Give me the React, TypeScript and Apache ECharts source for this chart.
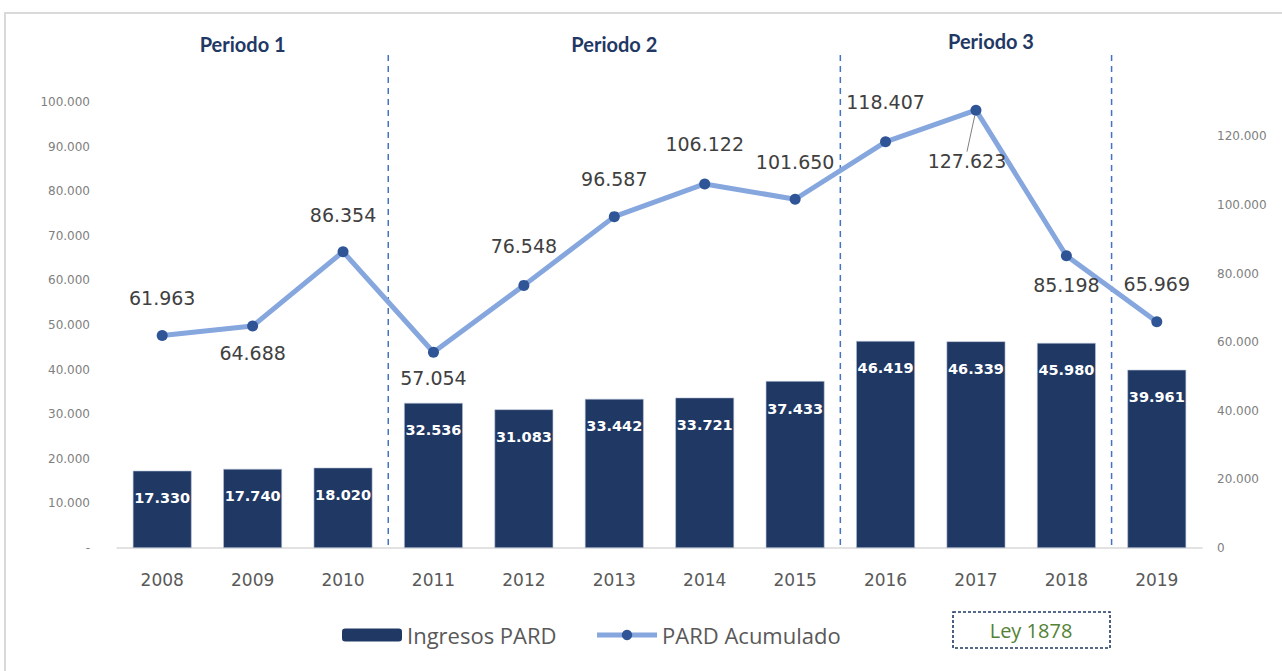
import React, { useEffect, useRef } from "react";
import * as echarts from "echarts";

const years = ["2008", "2009", "2010", "2011", "2012", "2013", "2014", "2015", "2016", "2017", "2018", "2019"];
const ingresos = [17330, 17740, 18020, 32536, 31083, 33442, 33721, 37433, 46419, 46339, 45980, 39961];
const acumulado = [61963, 64688, 86354, 57054, 76548, 96587, 106122, 101650, 118407, 127623, 85198, 65969];
const periodTitles = ["Periodo 1", "Periodo 2", "Periodo 3"];
// label placement for each accumulated point: [position, distance, dx]
const lineLabelPlacement: [string, number, number][] = [
  ["top", 22, 0],
  ["bottom", 12, 0],
  ["top", 22, 0],
  ["bottom", 11, 0],
  ["top", 24, 0],
  ["top", 23, 0],
  ["top", 25, 0],
  ["top", 22, 0],
  ["top", 25, -11],
  ["bottom", 12, 0],
  ["bottom", 14, 2],
  ["top", 23, 26],
];

const fmt = (v: number) => {
  if (v === 0) return "-";
  return Math.round(v).toString().replace(/\B(?=(\d{3})+(?!\d))/g, ".");
};
const fmtR = (v: number) => (v === 0 ? "0" : fmt(v));

export default function App() {
  const ref = useRef<HTMLDivElement>(null);
  useEffect(() => {
    if (!ref.current) return;
    const chart = echarts.init(ref.current, null, { renderer: "svg" });
    const lineData = acumulado.map((v, i) => {
      const [pos, dist, dx] = lineLabelPlacement[i];
      return {
        value: v,
        label: { position: pos as any, distance: dist, offset: [dx, 0] },
        labelLine: i === 9 ? { show: true } : undefined,
      };
    });
    const option: any = {
      animation: false,
      backgroundColor: "#ffffff",
      grid: { left: 117, right: 80, top: 102, bottom: 123 },
      legend: {
        left: 337,
        top: 619,
        itemWidth: 60,
        itemHeight: 13,
        itemGap: 38,
        textStyle: { fontFamily: "Open Sans", fontSize: 22, color: "#595959" },
        data: [
          { name: "Ingresos PARD", itemStyle: { borderWidth: 0, color: "#1F3864" } },
          { name: "PARD Acumulado", lineStyle: { width: 5, color: "#86A6DE" }, itemStyle: { color: "#2F5597" } },
        ],
      },
      xAxis: {
        type: "category",
        data: years,
        axisLine: { lineStyle: { color: "#d9d9d9", width: 1.5 } },
        axisTick: { show: false },
        axisLabel: { fontFamily: "DejaVu Sans", fontSize: 17, color: "#595959", margin: 23 },
      },
      yAxis: [
        {
          type: "value",
          min: 0,
          max: 100000,
          interval: 10000,
          splitLine: { show: false },
          axisLine: { show: false },
          axisTick: { show: false },
          axisLabel: {
            fontFamily: "DejaVu Sans",
            fontSize: 12,
            color: "#808080",
            margin: 27,
            formatter: fmt,
          },
        },
        {
          type: "value",
          min: 0,
          max: 130000,
          interval: 20000,
          splitLine: { show: false },
          axisLine: { show: false },
          axisTick: { show: false },
          axisLabel: {
            fontFamily: "DejaVu Sans",
            fontSize: 12,
            color: "#808080",
            margin: 15,
            showMaxLabel: false,
            formatter: fmtR,
          },
        },
      ],
      series: [
        {
          name: "Ingresos PARD",
          type: "bar",
          yAxisIndex: 0,
          barWidth: "65%",
          data: ingresos,
          itemStyle: { color: "#1F3864", borderColor: "#b8c2d6", borderWidth: 0.6 },
          label: {
            show: true,
            position: "insideTop",
            distance: 20,
            fontFamily: "DejaVu Sans",
            fontWeight: "bold",
            fontSize: 14.5,
            color: "#ffffff",
            formatter: (p: any) => fmt(p.value),
          },
        },
        {
          name: "PARD Acumulado",
          type: "line",
          yAxisIndex: 1,
          data: lineData,
          symbol: "circle",
          symbolSize: 11,
          lineStyle: { color: "#86A6DE", width: 5 },
          itemStyle: { color: "#2F5597" },
          label: {
            show: true,
            fontFamily: "DejaVu Sans",
            fontSize: 19,
            color: "#404040",
            formatter: (p: any) => fmt(p.value),
          },
          labelLine: { show: false, lineStyle: { color: "#808080", width: 1 } },
          labelLayout: (params: any) => (params.dataIndex === 9 ? { dx: -9, dy: 24 } : {}),
          z: 5,
        },
      ],
    };
    chart.setOption(option);

    const cx = (i: number) => chart.convertToPixel({ xAxisIndex: 0 }, years[i]) as number;
    const boundary = (i: number) => (cx(i) + cx(i + 1)) / 2;
    const yBottom = chart.convertToPixel({ yAxisIndex: 0 }, 0) as number;
    const dividers = [2, 7, 10].map((i) => boundary(i));
    const periodCenters = [(cx(0) + cx(2)) / 2 - 10, (cx(3) + cx(7)) / 2 + 0, (cx(8) + cx(10)) / 2 + 15];
    const periodY = [44, 44, 41];

    chart.setOption({
      graphic: [
        {
          type: "rect",
          shape: { x: 5, y: 13, width: 1300, height: 700 },
          style: { fill: "none", stroke: "#d9d9d9", lineWidth: 2 },
          silent: true,
        },
        ...dividers.map((x) => ({
          type: "line",
          shape: { x1: x, y1: 55, x2: x, y2: yBottom },
          style: { stroke: "#4472C4", lineWidth: 1.5, lineDash: [6, 5] },
          silent: true,
        })),
        ...periodTitles.map((t, i) => ({
          type: "text",
          x: periodCenters[i],
          y: periodY[i],
          style: {
            text: t,
            fill: "#1F3864",
            font: "bold 20px Lato",
            textAlign: "center",
            textVerticalAlign: "middle",
          },
        })),
        {
          type: "rect",
          shape: { x: 953, y: 612, width: 157, height: 36 },
          style: { fill: "#ffffff", stroke: "#1F3864", lineWidth: 1.6, lineDash: [3, 2] },
        },
        {
          type: "text",
          x: 1031,
          y: 630,
          style: {
            text: "Ley 1878",
            fill: "#548235",
            font: "20px 'Open Sans'",
            textAlign: "center",
            textVerticalAlign: "middle",
          },
        },
      ],
    });
    return () => chart.dispose();
  }, []);
  return (
    <div
      ref={ref}
      style={{ position: "fixed", left: 0, top: 0, width: 1282, height: 671, background: "#fff" }}
    />
  );
}
